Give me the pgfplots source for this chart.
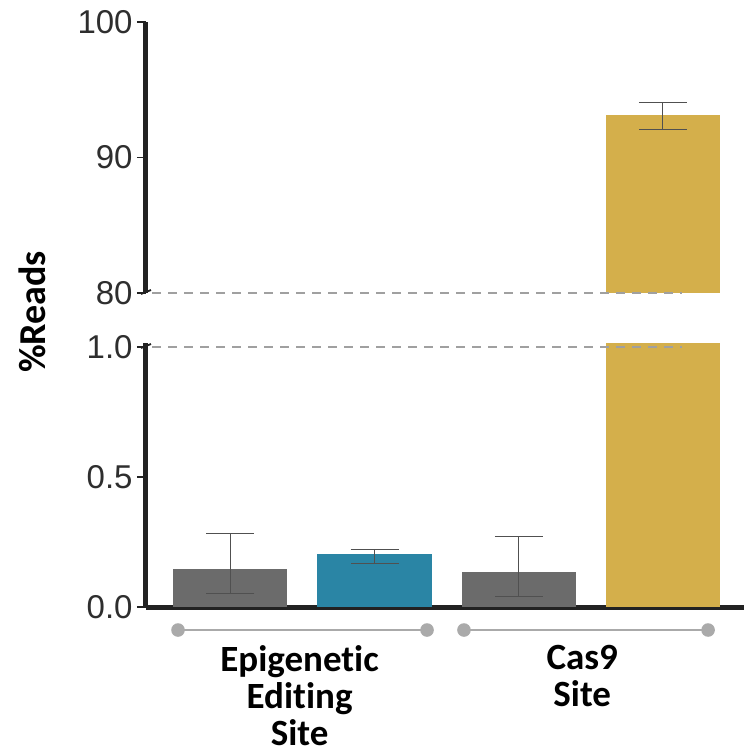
\documentclass[border=0pt]{standalone}
\usepackage{pgfplots}
\pgfplotsset{compat=1.18}
\usepackage{fontspec}
\setmainfont{Liberation Sans}
\newfontfamily\carlito[Ligatures=NoCommon]{Carlito}
\definecolor{bargray}{HTML}{6B6B6B}
\definecolor{barteal}{HTML}{2A85A5}
\definecolor{bargold}{HTML}{D4AF4B}
\definecolor{spine}{HTML}{222222}
\definecolor{errc}{HTML}{505050}
\definecolor{dashc}{HTML}{A0A0A0}
\definecolor{brk}{HTML}{AAAAAA}
\pgfplotsset{
  common/.style={
    scale only axis,
    width=299pt,
    xmin=-0.585, xmax=3.562,
    xtick=\empty,
    axis line style={line width=2.5pt, color=spine},
    tick align=outside,
    major tick length=4.5pt,
    ytick style={line width=0.7pt, color=spine},
    /pgf/number format/assume math mode=true,
    yticklabel style={font=\fontsize{16.5}{16.5}\selectfont, color=black!82, inner sep=0pt, xshift=-2pt},
    ybar, bar width=57.1pt,
    every axis plot/.append style={bar shift=0pt, draw=none},
    error bars/y dir=both, error bars/y explicit,
    error bars/error bar style={line width=0.5pt, color=errc},
    error bars/error mark options={rotate=90, mark size=12pt, line width=0.5pt, color=errc},
  }
}
\begin{document}
\begin{tikzpicture}
\useasboundingbox (0,0) rectangle (372pt,-376pt);
% bottom panel
\begin{axis}[common,
  at={(73pt,-303.5pt)}, anchor=south west,
  height=131.95pt,
  ymin=0, ymax=1.015,
  axis x line*=bottom, axis y line*=left,
  ytick={0,0.5,1.0},
  yticklabels={0.0,0.5,1.0},
]
\addplot[fill=bargray] coordinates {(0,0.145) += (0,0.138) -= (0,0.094)};
\addplot[fill=barteal] coordinates {(1,0.203) += (0,0.019) -= (0,0.034)};
\addplot[fill=bargray] coordinates {(2,0.133) += (0,0.140) -= (0,0.093)};
\addplot[fill=bargold, error bars/y dir=none] coordinates {(3,93.14)};
\coordinate (d1a) at (axis cs:-0.54,1.0);
\coordinate (d1b) at (axis cs:3.13,1.0);
\coordinate (b1a) at (axis cs:-0.363,-0.0885);
\coordinate (b1b) at (axis cs:1.364,-0.0885);
\coordinate (b2a) at (axis cs:1.620,-0.0885);
\coordinate (b2b) at (axis cs:3.313,-0.0885);
\coordinate (t1) at (axis cs:0.48,-0.145);
\coordinate (t2) at (axis cs:2.44,-0.145);
\coordinate (bk1) at (axis cs:-0.585,1.0);
\end{axis}
% top panel
\begin{axis}[common,
  at={(73pt,-146.5pt)}, anchor=south west,
  height=135.5pt,
  ymin=80, ymax=100,
  axis x line=none, axis y line*=left,
  ytick={80,90,100},
]
\addplot[fill=bargold] coordinates {(3,93.14) += (0,0.90) -= (0,1.06)};
\coordinate (d2a) at (axis cs:-0.54,80);
\coordinate (d2b) at (axis cs:3.13,80);
\coordinate (bk2) at (axis cs:-0.585,80);
\end{axis}
% dashed break lines
\draw[dashc, line width=1pt, dash pattern=on 4.5pt off 3.5pt] (d1a) -- (d1b);
\draw[dashc, line width=1pt, dash pattern=on 4.5pt off 3.5pt] (d2a) -- (d2b);
% break marks
\draw[spine, line width=0.9pt] ([xshift=-2.5pt,yshift=-0.5pt]bk1) -- ++(5pt,2pt);
\draw[spine, line width=0.9pt] ([xshift=-2.5pt,yshift=-0.5pt]bk2) -- ++(5pt,2pt);
% category brackets
\draw[brk, line width=1.2pt] (b1a) -- (b1b);
\draw[brk, line width=1.2pt] (b2a) -- (b2b);
\foreach \p in {b1a,b1b,b2a,b2b} \fill[brk] (\p) circle (3.4pt);
\node[anchor=north, align=center, inner sep=0pt, font=\carlito\bfseries\fontsize{18.5}{18.5}\selectfont] at (t1) {Epigenetic\\Editing\\Site};
\node[anchor=north, align=center, inner sep=0pt, font=\carlito\bfseries\fontsize{18.5}{18.5}\selectfont] at (t2) {Cas9\\Site};
% y label
\node[rotate=90, font=\carlito\bfseries\fontsize{19}{19}\selectfont, inner sep=0pt] at (16pt,-156pt) {\%Reads};
\end{tikzpicture}
\end{document}
